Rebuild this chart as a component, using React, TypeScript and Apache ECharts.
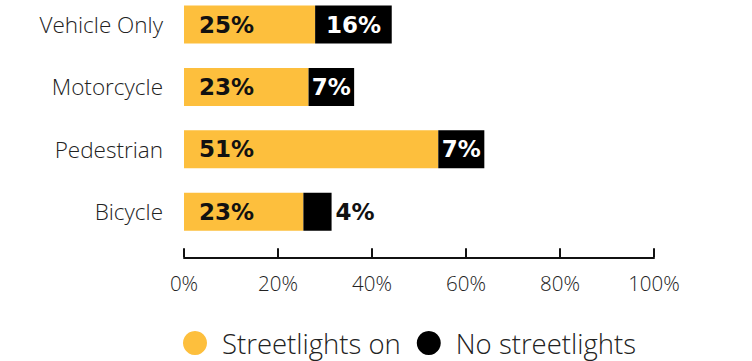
import React, { useEffect, useRef } from "react";
import * as echarts from "echarts";

const categories = ["Vehicle Only", "Motorcycle", "Pedestrian", "Bicycle"];
// bar lengths as drawn in the picture (axis units, %)
const streetlightsOnBars = [27.9, 26.5, 54.1, 25.4];
const noStreetlightsBars = [16.3, 9.7, 9.8, 6.0];
// printed labels
const streetlightsOnLabels = [25, 23, 51, 23];
const noStreetlightsLabels = [16, 7, 7, 4];
const seriesNames = ["Streetlights on", "No streetlights"];

const ORANGE = "#FDBF3D";
const BLACK = "#000000";
const FONT = "Open Sans";
const BOLD_FONT = "DejaVu Sans";
const SHIFT = 7;

export default function App() {
  const ref = useRef<HTMLDivElement>(null);
  useEffect(() => {
    if (!ref.current) return;
    const chart = echarts.init(ref.current, undefined, { renderer: "svg" });
    chart.setOption({
      animation: false,
      backgroundColor: "#ffffff",
      textStyle: { fontFamily: FONT },
      legend: {
        data: seriesNames.map((n) => ({ name: n, icon: "circle" })),
        left: 183,
        top: 326 + SHIFT,
        padding: 0,
        itemWidth: 24,
        itemHeight: 24,
        itemGap: 16,
        textStyle: {
          fontSize: 27.5,
          color: "#222",
          fontFamily: FONT,
          fontWeight: 300,
          padding: [0, 0, 0, 10],
          lineHeight: 34,
        },
      },
      grid: { left: 184, right: 98, top: -6.7 + SHIFT, bottom: 118.1, containLabel: false },
      xAxis: {
        type: "value",
        min: 0,
        max: 100,
        interval: 20,
        offset: 14.4,
        axisLine: { show: true, lineStyle: { color: "#111", width: 2 } },
        axisTick: { show: true, inside: true, length: 9, lineStyle: { color: "#111", width: 2 } },
        splitLine: { show: false },
        axisLabel: {
          formatter: (v: number) => `${v}%`,
          fontSize: 20.5,
          color: "#222",
          fontFamily: FONT,
          fontWeight: 300,
          margin: 15,
        },
      },
      yAxis: {
        type: "category",
        data: categories,
        inverse: true,
        axisLine: { show: false },
        axisTick: { show: false },
        axisLabel: { fontSize: 22.5, color: "#222", fontFamily: FONT, fontWeight: 300, margin: 21 },
      },
      series: [
        {
          name: seriesNames[0],
          type: "bar",
          stack: "total",
          barWidth: 38,
          itemStyle: { color: ORANGE },
          data: streetlightsOnBars,
          label: {
            show: true,
            position: "insideLeft",
            distance: 15,
            formatter: (p: any) => `${streetlightsOnLabels[p.dataIndex]}%`,
            fontSize: 23,
            fontWeight: "bold",
            color: "#111",
            fontFamily: BOLD_FONT,
          },
        },
        {
          name: seriesNames[1],
          type: "bar",
          stack: "total",
          barWidth: 38,
          itemStyle: { color: BLACK },
          data: noStreetlightsBars.map((v, i) =>
            i === 3
              ? {
                  value: v,
                  label: { position: "right", distance: 4, color: "#111" },
                }
              : v
          ),
          label: {
            show: true,
            position: "inside",
            formatter: (p: any) => `${noStreetlightsLabels[p.dataIndex]}%`,
            fontSize: 23,
            fontWeight: "bold",
            color: "#ffffff",
            fontFamily: BOLD_FONT,
          },
        },
      ],
    });
    return () => chart.dispose();
  }, []);
  return (
    <div
      ref={ref}
      style={{ position: "fixed", left: 0, top: -SHIFT, width: 752, height: 361 + SHIFT }}
    />
  );
}
